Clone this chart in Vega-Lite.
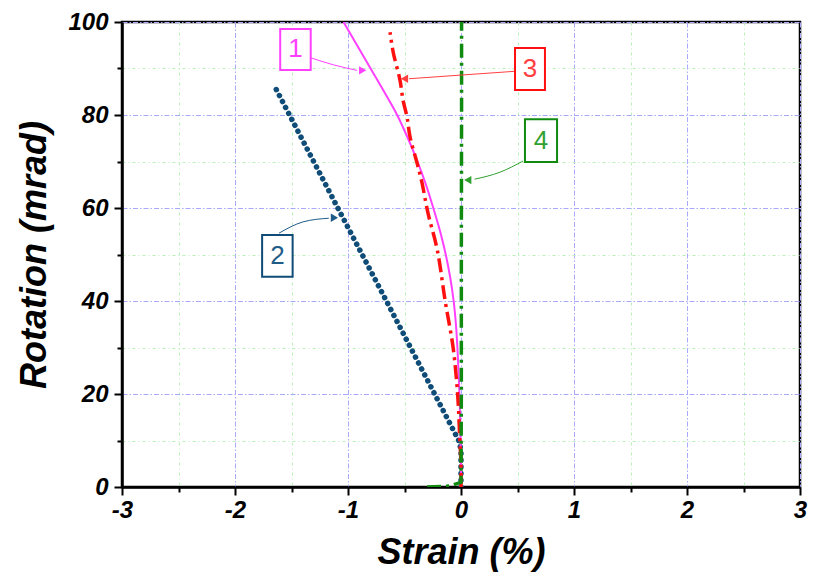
{
  "$schema": "https://vega.github.io/schema/vega-lite/v6.json",
  "width": 678,
  "height": 465,
  "autosize": {"type": "none"},
  "padding": {"left": 122, "top": 22, "right": 16, "bottom": 96},
  "background": "white",
  "config": {
    "view": {"stroke": "black", "strokeWidth": 2.5},
    "axis": {
      "labelFont": "Liberation Sans",
      "labelFontStyle": "italic",
      "labelFontWeight": "bold",
      "labelFontSize": 24,
      "labelColor": "black",
      "titleFont": "Liberation Sans",
      "titleFontStyle": "italic",
      "titleFontWeight": "bold",
      "titleFontSize": 36,
      "titleColor": "black",
      "domainColor": "black",
      "domainWidth": 2.5,
      "tickColor": "black",
      "tickWidth": 2,
      "grid": true,
      "gridWidth": 1
    }
  },
  "datasets": {
    "curves": [
      {"s": "2", "i": 0, "x": 0, "y": 0},
      {"s": "2", "i": 1, "x": 0, "y": 8},
      {"s": "2", "i": 2, "x": -0.02, "y": 10},
      {"s": "2", "i": 3, "x": -0.66, "y": 40},
      {"s": "2", "i": 4, "x": -1.09, "y": 60},
      {"s": "2", "i": 5, "x": -1.65, "y": 86.2},
      {"s": "1", "i": 0, "x": 0, "y": 0},
      {"s": "1", "i": 1, "x": 0, "y": 5},
      {"s": "1", "i": 2, "x": -0.004, "y": 10},
      {"s": "1", "i": 3, "x": -0.008, "y": 15},
      {"s": "1", "i": 4, "x": -0.014, "y": 20},
      {"s": "1", "i": 5, "x": -0.022, "y": 25},
      {"s": "1", "i": 6, "x": -0.032, "y": 30},
      {"s": "1", "i": 7, "x": -0.045, "y": 35},
      {"s": "1", "i": 8, "x": -0.065, "y": 40},
      {"s": "1", "i": 9, "x": -0.095, "y": 45},
      {"s": "1", "i": 10, "x": -0.135, "y": 50},
      {"s": "1", "i": 11, "x": -0.185, "y": 55},
      {"s": "1", "i": 12, "x": -0.245, "y": 60},
      {"s": "1", "i": 13, "x": -0.31, "y": 65},
      {"s": "1", "i": 14, "x": -0.385, "y": 70},
      {"s": "1", "i": 15, "x": -0.47, "y": 75},
      {"s": "1", "i": 16, "x": -0.565, "y": 80},
      {"s": "1", "i": 17, "x": -0.68, "y": 85},
      {"s": "1", "i": 18, "x": -0.8, "y": 90},
      {"s": "1", "i": 19, "x": -0.92, "y": 95},
      {"s": "1", "i": 20, "x": -1.04, "y": 100},
      {"s": "3", "i": 0, "x": 0, "y": 0},
      {"s": "3", "i": 1, "x": 0, "y": 5},
      {"s": "3", "i": 2, "x": -0.01, "y": 10},
      {"s": "3", "i": 3, "x": -0.03, "y": 20},
      {"s": "3", "i": 4, "x": -0.07, "y": 30},
      {"s": "3", "i": 5, "x": -0.14, "y": 40},
      {"s": "3", "i": 6, "x": -0.21, "y": 51},
      {"s": "3", "i": 7, "x": -0.292, "y": 58.9},
      {"s": "3", "i": 8, "x": -0.345, "y": 65.4},
      {"s": "3", "i": 9, "x": -0.389, "y": 69.7},
      {"s": "3", "i": 10, "x": -0.451, "y": 75.3},
      {"s": "3", "i": 11, "x": -0.478, "y": 79.6},
      {"s": "3", "i": 12, "x": -0.513, "y": 83.2},
      {"s": "3", "i": 13, "x": -0.54, "y": 87.5},
      {"s": "3", "i": 14, "x": -0.6, "y": 93.5},
      {"s": "3", "i": 15, "x": -0.628, "y": 97.8},
      {"s": "4", "i": 0, "x": -0.3, "y": 0},
      {"s": "4", "i": 1, "x": -0.1, "y": 0.2},
      {"s": "4", "i": 2, "x": 0, "y": 1},
      {"s": "4", "i": 3, "x": 0.003, "y": 20},
      {"s": "4", "i": 4, "x": 0.003, "y": 50},
      {"s": "4", "i": 5, "x": 0.005, "y": 80},
      {"s": "4", "i": 6, "x": 0.005, "y": 100}
    ],
    "boxes": [
      {"s": "1", "x1": -1.6, "x2": -1.33, "y1": 89.7, "y2": 98.5, "tx": -1.465, "ty": 94.1},
      {"s": "2", "x1": -1.76, "x2": -1.49, "y1": 45.2, "y2": 54.2, "tx": -1.625, "ty": 49.7},
      {"s": "3", "x1": 0.478, "x2": 0.743, "y1": 85.4, "y2": 94.4, "tx": 0.61, "ty": 89.9},
      {"s": "4", "x1": 0.566, "x2": 0.85, "y1": 69.9, "y2": 79.1, "tx": 0.708, "ty": 74.5}
    ],
    "arrows": [
      {"s": "1", "i": 0, "x": -1.33, "y": 92.3},
      {"s": "1", "i": 1, "x": -1.13, "y": 90.8},
      {"s": "1", "i": 2, "x": -0.92, "y": 89.6},
      {"s": "2", "i": 0, "x": -1.61, "y": 54.6},
      {"s": "2", "i": 1, "x": -1.4, "y": 57.0},
      {"s": "2", "i": 2, "x": -1.17, "y": 57.8},
      {"s": "3", "i": 0, "x": 0.478, "y": 89.4},
      {"s": "3", "i": 1, "x": -0.46, "y": 87.8},
      {"s": "4", "i": 0, "x": 0.549, "y": 70.1},
      {"s": "4", "i": 1, "x": 0.345, "y": 67.7},
      {"s": "4", "i": 2, "x": 0.12, "y": 66.2}
    ],
    "heads": [
      {"s": "1", "x": -0.87, "y": 89.6},
      {"s": "2", "x": -1.12, "y": 57.9},
      {"s": "3", "x": -0.5, "y": 87.8},
      {"s": "4", "x": 0.06, "y": 66.0}
    ]
  },
  "layer": [
    {
      "data": {"name": "curves"},
      "transform": [{"filter": "datum.s === '2'"}],
      "mark": {"type": "line", "color": "#0f4c78", "strokeWidth": 5.5, "strokeCap": "round", "strokeDash": [0.1, 6.6], "clip": true},
      "encoding": {
        "x": {
          "field": "x", "type": "quantitative",
          "scale": {"domain": [-3, 3], "nice": false, "zero": false},
          "axis": {
            "title": "Strain (%)",
            "values": [-3, -2.5, -2, -1.5, -1, -0.5, 0, 0.5, 1, 1.5, 2, 2.5, 3],
            "labelExpr": "datum.value % 1 === 0 ? '' + datum.value : ''",
            "tickSize": {"condition": {"test": "datum.value % 1 !== 0", "value": 5}, "value": 8},
            "gridColor": {"condition": {"test": "datum.value % 1 !== 0", "value": "#b8f0b8"}, "value": "#a8a8ff"},
            "gridDash": {"condition": {"test": "datum.value % 1 !== 0", "value": [3, 3, 1, 3]}, "value": [5, 2, 1.5, 2]},
            "labelPadding": 3,
            "titlePadding": 13,
            "labelFlush": false
          }
        },
        "y": {
          "field": "y", "type": "quantitative",
          "scale": {"domain": [0, 100], "nice": false, "zero": false},
          "axis": {
            "title": "Rotation (mrad)",
            "values": [0, 10, 20, 30, 40, 50, 60, 70, 80, 90, 100],
            "labelExpr": "datum.value % 20 === 0 ? '' + datum.value : ''",
            "tickSize": {"condition": {"test": "datum.value % 20 !== 0", "value": 5}, "value": 8},
            "gridColor": {"condition": {"test": "datum.value % 20 !== 0", "value": "#b8f0b8"}, "value": "#a8a8ff"},
            "gridDash": {"condition": {"test": "datum.value % 20 !== 0", "value": [3, 3, 1, 3]}, "value": [5, 2, 1.5, 2]},
            "labelPadding": 6,
            "titlePadding": 14,
            "labelFlush": false
          }
        },
        "order": {"field": "i", "type": "quantitative"}
      }
    },
    {
      "data": {"name": "curves"},
      "transform": [{"filter": "datum.s === '1'"}],
      "mark": {"type": "line", "color": "#ff40ff", "strokeWidth": 2, "interpolate": "catmull-rom", "clip": true},
      "encoding": {
        "x": {"field": "x", "type": "quantitative"},
        "y": {"field": "y", "type": "quantitative"},
        "order": {"field": "i", "type": "quantitative"}
      }
    },
    {
      "data": {"name": "curves"},
      "transform": [{"filter": "datum.s === '3'"}],
      "mark": {"type": "line", "color": "#ff1010", "strokeWidth": 3.5, "strokeDash": [14, 5, 3, 5], "interpolate": "catmull-rom", "clip": true},
      "encoding": {
        "x": {"field": "x", "type": "quantitative"},
        "y": {"field": "y", "type": "quantitative"},
        "order": {"field": "i", "type": "quantitative"}
      }
    },
    {
      "data": {"name": "curves"},
      "transform": [{"filter": "datum.s === '4'"}],
      "mark": {"type": "line", "color": "#108a10", "strokeWidth": 3.5, "strokeDash": [14, 5, 3, 5], "clip": true},
      "encoding": {
        "x": {"field": "x", "type": "quantitative"},
        "y": {"field": "y", "type": "quantitative"},
        "order": {"field": "i", "type": "quantitative"}
      }
    },
    {
      "data": {"name": "arrows"},
      "mark": {"type": "line", "strokeWidth": 1, "interpolate": "monotone"},
      "encoding": {
        "x": {"field": "x", "type": "quantitative"},
        "y": {"field": "y", "type": "quantitative"},
        "detail": {"field": "s"},
        "order": {"field": "i", "type": "quantitative"},
        "color": {"field": "s", "type": "nominal", "scale": {"domain": ["1", "2", "3", "4"], "range": ["#ff40ff", "#1f5c88", "#ff4040", "#30a030"]}, "legend": null}
      }
    },
    {
      "data": {"name": "heads"},
      "mark": {"type": "point", "filled": true, "opacity": 1, "size": 70},
      "encoding": {
        "x": {"field": "x", "type": "quantitative"},
        "y": {"field": "y", "type": "quantitative"},
        "shape": {"field": "s", "type": "nominal", "scale": {"domain": ["1", "2", "3", "4"], "range": ["triangle-right", "triangle-right", "triangle-left", "triangle-left"]}, "legend": null},
        "color": {"field": "s", "type": "nominal", "scale": {"domain": ["1", "2", "3", "4"], "range": ["#ff40ff", "#1f5c88", "#ff1010", "#108a10"]}, "legend": null}
      }
    },
    {
      "data": {"name": "boxes"},
      "mark": {"type": "rect", "fill": "white", "strokeWidth": 2},
      "encoding": {
        "x": {"field": "x1", "type": "quantitative"},
        "x2": {"field": "x2"},
        "y": {"field": "y1", "type": "quantitative"},
        "y2": {"field": "y2"},
        "stroke": {"field": "s", "type": "nominal", "scale": {"domain": ["1", "2", "3", "4"], "range": ["#ff40ff", "#0f4c78", "#ff1010", "#108a10"]}, "legend": null}
      }
    },
    {
      "data": {"name": "boxes"},
      "mark": {"type": "text", "font": "Liberation Sans", "fontSize": 26, "align": "center", "baseline": "middle"},
      "encoding": {
        "x": {"field": "tx", "type": "quantitative"},
        "y": {"field": "ty", "type": "quantitative"},
        "text": {"field": "s"},
        "color": {"field": "s", "type": "nominal", "scale": {"domain": ["1", "2", "3", "4"], "range": ["#ff40ff", "#0f4c78", "#ff1010", "#108a10"]}, "legend": null}
      }
    }
  ]
}
